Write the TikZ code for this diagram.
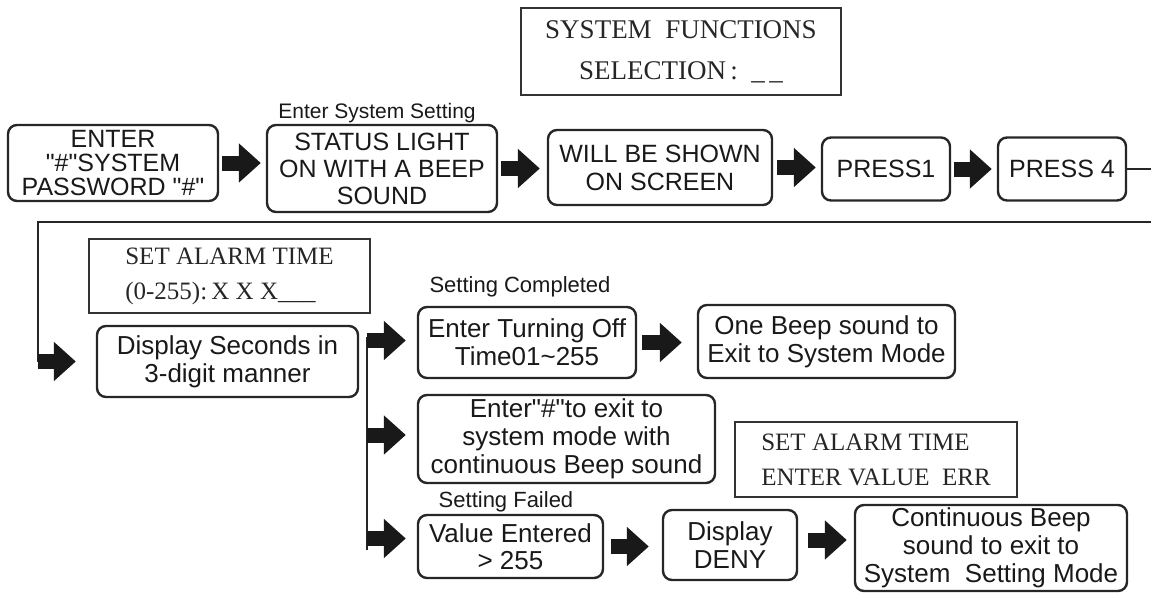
\documentclass[tikz,border=0pt]{standalone}
\usepackage{fontspec}
\setmainfont{Liberation Sans}
\newfontfamily\lcdfont{Liberation Serif}
\usetikzlibrary{arrows.meta}
\newcommand{\dq}{\textquotedbl}

\begin{document}
\begin{tikzpicture}[
              x=1pt,y=-1pt,
              stepbox/.style={draw=black!85,line width=2.4pt,rounded corners=9pt,inner sep=0pt,
                              align=center,text=black!90,font=\fontsize{26}{28}\selectfont},
              lcd/.style={draw=black!80,line width=1.8pt,inner sep=0pt,text=black!85,
                          font=\lcdfont\fontsize{25}{35}\selectfont},
              caption/.style={text=black!90,font=\fontsize{21}{21}\selectfont},
              fat/.style={draw=black!90,line width=15pt,-{Triangle[length=22pt,width=38pt]},
                          shorten <=3pt,shorten >=5pt},
              link/.style={draw=black!85,line width=2.6pt}
            ]
            \useasboundingbox (0,0) rectangle (1151,594);

            % Screen: system functions
            \node[lcd,minimum width=320,minimum height=87,align=center,
                  font=\lcdfont\fontsize{27}{41}\selectfont] (sysscreen) at (681,51.5)
                 {SYSTEM\ \ FUNCTIONS\\SELECTION\,:\ \ \_\,\_};

            % Row 1: enter system setting
            \node[caption] (setcap) at (377,113) {Enter System Setting};
            \node[stepbox,minimum width=210,minimum height=76,font=\fontsize{25}{24}\selectfont]
                 (enter) at (113,163) {ENTER\\\dq\#\dq SYSTEM\\PASSWORD \dq\#\dq};
            \node[stepbox,minimum width=230,minimum height=87,font=\fontsize{25}{27}\selectfont]
                 (status) at (382,168.5) {STATUS LIGHT\\ON WITH A BEEP\\SOUND};
            \node[stepbox,minimum width=224,minimum height=75,font=\fontsize{25}{28}\selectfont]
                 (shown) at (660,167.5) {WILL BE SHOWN\\ON SCREEN};
            \node[stepbox,minimum width=128,minimum height=63,font=\fontsize{25}{28}\selectfont]
                 (press1) at (886,169) {PRESS1};
            \node[stepbox,minimum width=128,minimum height=63,font=\fontsize{25}{28}\selectfont]
                 (press4) at (1062,169) {PRESS 4};

            \draw[fat] (enter.east) -- (enter.east -| status.west);
            \draw[fat,shorten >=7pt] (status.east) -- (status.east -| shown.west);
            \draw[fat,shorten <=4pt] (shown.east) -- (shown.east -| press1.west);
            \draw[fat] (press1.east) -- (press1.east -| press4.west);

            % Row 2: alarm time
            \node[lcd,minimum width=281,minimum height=74,align=left]
                 (alarmscreen) at (229.5,276) {SET ALARM TIME\\(0-255):\,X X X\_\_\_};
            \node[stepbox,minimum width=261,minimum height=71] (display) at (227.5,361.5)
                 {Display Seconds in\\3-digit manner};

            % Loop back to the second row
            \coordinate (turn) at (38,222);
            \draw[link] (press4.east) -- ++(45,0) |- (turn) -- (turn |- display.west);
            \draw[fat,shorten <=0pt,shorten >=20pt] (turn |- display.west) -- (display.west);

            % Branches
            \coordinate (fork) at (367,337);
            \draw[link] (fork) -- (367,550);

            \node[caption,font=\fontsize{22}{22}\selectfont] (donecap) at (520,287) {Setting Completed};
            \node[stepbox,minimum width=218,minimum height=71] (turnoff) at (527,342.5)
                 {Enter Turning Off\\Time01\textasciitilde255};
            \node[stepbox,minimum width=257,minimum height=73] (onebeep) at (826.5,341.5)
                 {One Beep sound to\\Exit to System Mode};

            \node[stepbox,minimum width=297,minimum height=88] (exitmode) at (566.5,439)
                 {Enter\dq\#\dq to exit to\\system mode with\\continuous Beep sound};

            \node[lcd,minimum width=282,minimum height=75,align=left]
                 (errscreen) at (876,459.5) {SET ALARM TIME\\ENTER VALUE\ \ ERR};

            \node[caption,font=\fontsize{22}{22}\selectfont] (failcap) at (506,502) {Setting Failed};
            \node[stepbox,minimum width=185,minimum height=63,font=\fontsize{26}{27}\selectfont]
                 (entered) at (510.5,546.5) {Value Entered\\> 255};
            \node[stepbox,minimum width=134,minimum height=70] (deny) at (730,545)
                 {Display\\DENY};
            \node[stepbox,minimum width=272,minimum height=86] (contbeep) at (991,548)
                 {Continuous Beep\\sound to exit to\\System\ \ Setting Mode};

            \draw[fat,shorten <=0pt,shorten >=11pt] ([yshift=2pt]fork |- turnoff.west) -- ([yshift=2pt]turnoff.west);
            \draw[fat,shorten <=0pt,shorten >=11pt] ([yshift=4pt]fork |- exitmode.west) -- ([yshift=4pt]exitmode.west);
            \draw[fat,shorten <=0pt,shorten >=11pt] ([yshift=8pt]fork |- entered.west) -- ([yshift=8pt]entered.west);

            \draw[fat,shorten <=5pt,shorten >=15pt] (turnoff.east) -- (turnoff.east -| onebeep.west);
            \draw[fat,shorten <=7pt,shorten >=13pt] (entered.east) -- (entered.east -| deny.west);
            \draw[fat,shorten <=10pt,shorten >=7pt] ([yshift=5pt]deny.east) -- ([yshift=5pt]deny.east -| contbeep.west);

            \end{tikzpicture}
\end{document}
